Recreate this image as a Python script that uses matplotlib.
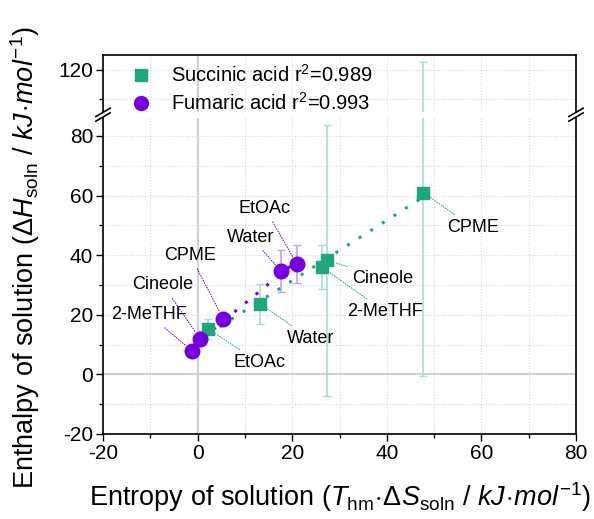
import numpy as np
import matplotlib
matplotlib.use("Agg")
import matplotlib.pyplot as plt
from matplotlib.lines import Line2D

plt.rcParams["font.family"] = ["Liberation Sans", "DejaVu Sans"]
plt.rcParams["mathtext.fontset"] = "custom"
plt.rcParams["mathtext.rm"] = "Liberation Sans"
plt.rcParams["mathtext.it"] = "Liberation Sans:italic"
plt.rcParams["mathtext.bf"] = "Liberation Sans:bold"
plt.rcParams["axes.unicode_minus"] = False

# data
solvents_sa = ["EtOAc", "Water", "2-MeTHF", "Cineole", "CPME"]
sa_x = [2.2, 13.2, 26.3, 27.4, 47.7]
sa_y = [15.3, 23.7, 36.0, 38.3, 61.0]
sa_err = [3.4, 6.7, 7.5, 45.5, 61.5]
sa_label_pos = [(13.0, 4.0), (23.8, 12.0), (39.6, 21.0), (39.2, 32.3), (58.2, 49.3)]

solvents_fa = ["2-MeTHF", "Cineole", "CPME", "Water", "EtOAc"]
fa_x = [-1.2, 0.5, 5.4, 17.6, 21.0]
fa_y = [8.0, 12.0, 18.7, 34.7, 37.0]
fa_err = [1.5, 2.5, 1.5, 7.0, 6.3]
fa_label_pos = [(-10.3, 20.0), (-7.3, 30.0), (-1.6, 40.0), (11.3, 46.0), (14.2, 55.7)]

green = "#20a67d"
green_light = "#a6dfca"
purple = "#7500de"
purple_light = "#c8a0f0"

fig = plt.figure(figsize=(5.94, 5.19), dpi=100)
ax = fig.add_axes([0.1734, 0.1638, 0.7963, 0.6088])
ax_top = fig.add_axes([0.1734, 0.7842, 0.7963, 0.1098], sharex=ax)

for a in (ax, ax_top):
    a.axvline(0, color="#d0d0d0", lw=1.5, zorder=0)
    a.grid(True, which="both", linestyle=":", color="#d8d8d8", lw=0.8)
    a.set_axisbelow(True)
    a.errorbar(sa_x, sa_y, yerr=sa_err, fmt="none", ecolor=green_light,
               elinewidth=1.2, capsize=3, capthick=1, zorder=2)
    a.errorbar(fa_x, fa_y, yerr=fa_err, fmt="none", ecolor=purple_light,
               elinewidth=1.2, capsize=3, capthick=1, zorder=2)

ax.axhline(0, color="#d0d0d0", lw=1.5, zorder=0)

# linear fits
for xs, ys, c in ((sa_x, sa_y, green), (fa_x, fa_y, purple)):
    k, b = np.polyfit(xs, ys, 1)
    xx = np.array([min(xs), max(xs)])
    ax.plot(xx, k * xx + b, linestyle=(0, (1, 3.5)), lw=2.2, color=c, zorder=3)

ax.scatter(sa_x, sa_y, marker="s", s=85, color=green, zorder=4)
ax.scatter(fa_x, fa_y, marker="o", s=110, color=purple, zorder=4)

for name, x, y, pos in zip(solvents_sa, sa_x, sa_y, sa_label_pos):
    ax.annotate(name, xy=(x, y), xytext=pos, ha="center", va="center", fontsize=13,
                arrowprops=dict(arrowstyle="-", color=green, lw=0.7, linestyle=":",
                                shrinkA=2, shrinkB=6))
for name, x, y, pos in zip(solvents_fa, fa_x, fa_y, fa_label_pos):
    ax.annotate(name, xy=(x, y), xytext=pos, ha="center", va="center", fontsize=13,
                arrowprops=dict(arrowstyle="-", color=purple, lw=0.7, linestyle=":",
                                shrinkA=2, shrinkB=6))

ax.set_xlim(-20, 80)
ax.set_ylim(-20, 86)
ax_top.set_ylim(105.5, 125)
ax.set_xticks([-20, 0, 20, 40, 60, 80])
ax.set_xticks(np.arange(-10, 80, 20), minor=True)
ax.set_yticks([-20, 0, 20, 40, 60, 80])
ax.set_yticks(np.arange(-10, 86, 20), minor=True)
ax_top.set_yticks([120])
ax_top.set_yticks([110], minor=True)

ax.spines["top"].set_visible(False)
ax_top.spines["bottom"].set_visible(False)
ax_top.tick_params(axis="x", which="both", bottom=False, labelbottom=False)
for a in (ax, ax_top):
    a.tick_params(which="major", direction="out", length=5, width=1, labelsize=15,
                  right=False, top=False, pad=2)
    a.tick_params(which="minor", direction="out", length=3, width=1, right=False, top=False)
    for s in a.spines.values():
        s.set_linewidth(1.2)

# break marks
for xf in (0.1734, 0.9697):
    for yo in (0.7745, 0.7835):
        fig.add_artist(Line2D([xf - 0.012, xf + 0.012], [yo - 0.008, yo + 0.008],
                              color="black", lw=1.2, transform=fig.transFigure))

fig.text(0.572, 0.042,
         r"Entropy of solution ($T_\mathrm{hm}\!\cdot\!\Delta S_\mathrm{soln}$ / $kJ\!\cdot\! mol^{-1}$)",
         ha="center", va="center", fontsize=19.5)
fig.text(0.042, 0.503, r"Enthalpy of solution ($\Delta H_\mathrm{soln}$ / $kJ\!\cdot\! mol^{-1}$)",
         rotation=90, ha="center", va="center", fontsize=19.5)

handles = [
    Line2D([], [], marker="s", color=green, linestyle="none", markersize=9),
    Line2D([], [], marker="o", color=purple, linestyle="none", markersize=10),
]
fig.legend(handles, [r"Succinic acid r$^{2}$=0.989", r"Fumaric acid r$^{2}$=0.993"],
           loc="upper left", bbox_to_anchor=(0.19, 0.892), frameon=False, fontsize=14.5,
           handletextpad=0.5, labelspacing=0.3, borderaxespad=0)

fig.savefig("out.png", dpi=100)
